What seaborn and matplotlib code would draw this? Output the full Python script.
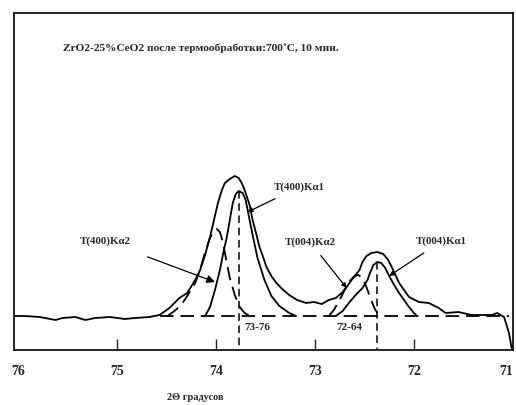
import numpy as np
import pandas as pd
import seaborn as sns
import matplotlib.pyplot as plt

sns.set_style("white")
plt.rcParams['font.family'] = ['Liberation Serif', 'DejaVu Serif']
plt.rcParams['font.weight'] = 'bold'

# measured profile (2theta, intensity)
meas_x = [76.04, 75.93, 75.78, 75.62, 75.55, 75.42, 75.32, 75.22, 75.07, 74.92, 74.82, 74.67,
          74.57, 74.47, 74.37, 74.29, 74.21, 74.16, 74.11, 74.06, 74.02, 73.98, 73.94, 73.91,
          73.86, 73.81, 73.77, 73.74, 73.71, 73.66, 73.63, 73.59, 73.56, 73.52, 73.49, 73.44,
          73.39, 73.32, 73.26, 73.18, 73.09, 73.01, 72.93, 72.86, 72.79, 72.73, 72.68, 72.63,
          72.59, 72.55, 72.52, 72.48, 72.43, 72.37, 72.31, 72.26, 72.21, 72.15, 72.05, 71.95,
          71.85, 71.75, 71.68, 71.55, 71.42, 71.21, 71.16, 71.09, 71.04, 71.01]
meas_y = [0, 0, -1, -4, -2, -1, -4, -2, -1, -3, -2, -1,
          1, 8, 18, 23, 36, 46, 61, 79, 96, 113, 126, 133,
          137, 140, 138, 133, 126, 111, 96, 81, 69, 58, 49, 40,
          33, 26, 21, 16, 13, 14, 12, 16, 18, 23, 29, 36,
          41, 46, 54, 60, 63, 64, 62, 56, 46, 33, 19, 14,
          13, 8, 3, 4, 1, 1, 3, -1, -17, -34]

# T(400) Ka1
k400a1_x = [74.11, 74.06, 74.01, 73.96, 73.92, 73.89, 73.86, 73.83, 73.80, 73.77,
            73.73, 73.70, 73.68, 73.64, 73.58, 73.51, 73.44, 73.36, 73.26, 73.19]
k400a1_y = [0, 9, 26, 46, 66, 79, 96, 113, 122, 125,
            123, 116, 106, 86, 58, 36, 20, 10, 3, 0]

# T(400) Ka2
k400a2_x = [74.49, 74.42, 74.35, 74.29, 74.21, 74.16, 74.11, 74.06, 74.02, 73.99,
            73.96, 73.93, 73.90, 73.86, 73.81, 73.76, 73.71, 73.66]
k400a2_y = [0, 5, 11, 20, 33, 46, 64, 78, 85, 87,
            84, 74, 58, 38, 21, 9, 3, 0]

# T(004) Ka1
k004a1_x = [72.79, 72.72, 72.65, 72.58, 72.52, 72.47, 72.44, 72.41, 72.37, 72.33,
            72.29, 72.25, 72.20, 72.15, 72.10, 72.05, 72.00, 71.97]
k004a1_y = [0, 5, 14, 22, 28, 36, 44, 51, 54, 53,
            48, 40, 31, 23, 16, 9, 3, 0]

# T(004) Ka2
k004a2_x = [72.86, 72.81, 72.75, 72.70, 72.65, 72.60, 72.56, 72.52, 72.48, 72.44, 72.40, 72.35]
k004a2_y = [0, 6, 16, 26, 35, 40, 41, 38, 29, 18, 8, 0]

base_x = [74.57, 71.04]
base_y = [0, 0]

peak_pos = [73.77, 72.37]
peak_top = [125, 54]

ticks = [76, 75, 74, 73, 72, 71]

fig = plt.figure(figsize=(5.16, 4.05), dpi=100)
ax = fig.add_axes([0.0271, 0.1358, 0.967, 0.832])

dash = (0, (7.5, 3.8))
lw = 1.3

sns.lineplot(x=meas_x, y=meas_y, sort=False, estimator=None, color='black', lw=lw, ax=ax)
sns.lineplot(x=k400a1_x, y=k400a1_y, sort=False, estimator=None, color='black', lw=lw, ax=ax)
sns.lineplot(x=k004a1_x, y=k004a1_y, sort=False, estimator=None, color='black', lw=lw, ax=ax)
sns.lineplot(x=k400a2_x, y=k400a2_y, sort=False, estimator=None, color='black', lw=lw, ls=dash, ax=ax)
sns.lineplot(x=k004a2_x, y=k004a2_y, sort=False, estimator=None, color='black', lw=lw, ls=dash, ax=ax)
sns.lineplot(x=base_x, y=base_y, sort=False, estimator=None, color='black', lw=lw, ls=dash, ax=ax)

for p, t in zip(peak_pos, peak_top):
    ax.plot([p, p], [t, -34], color='black', lw=1.1, ls=(0, (5, 3)))

ax.set_xlim(76.04, 71.01)
ax.set_ylim(-34, 303)
ax.set_xticks(ticks)
ax.set_xticklabels([str(t) for t in ticks], fontsize=10, fontweight='bold')
ax.set_yticks([])
ax.tick_params(axis='x', direction='in', length=8, width=1.0, pad=11, bottom=True)
xt = ax.xaxis.get_major_ticks()
xt[0].tick1line.set_visible(False)
xt[-1].tick1line.set_visible(False)
ax.get_xticklabels()[-1].set_horizontalalignment('right')
for s in ax.spines.values():
    s.set_visible(True)
    s.set_color('black')
    s.set_linewidth(1.2)

ax.text(75.54, 268, "ZrO2-25%CeO2 после термообработки:700˚C, 10 мин.",
        fontsize=8.2, fontweight='bold', va='center', ha='left')

ax.text(73.58, -11, "73-76", fontsize=8, fontweight='bold', ha='center', va='center')
ax.text(72.65, -11, "72-64", fontsize=8, fontweight='bold', ha='center', va='center')

lbl = dict(fontsize=7.8, fontweight='bold', ha='center', va='center')
ax.annotate("T(400)Kα2", xy=(74.01, 34), xytext=(75.12, 75), **lbl,
            arrowprops=dict(arrowstyle='-|>', color='black', lw=0.9, mutation_scale=12,
                            shrinkA=16, shrinkB=0))
ax.annotate("T(400)Kα1", xy=(73.68, 104), xytext=(73.16, 129), **lbl,
            arrowprops=dict(arrowstyle='-|>', color='black', lw=0.9, mutation_scale=7,
                            shrinkA=6, shrinkB=0))
ax.annotate("T(004)Kα2", xy=(72.68, 28), xytext=(73.05, 74), **lbl,
            arrowprops=dict(arrowstyle='-|>', color='black', lw=0.9, mutation_scale=7,
                            shrinkA=5, shrinkB=0))
ax.annotate("T(004)Kα1", xy=(72.25, 40), xytext=(71.72, 75), **lbl,
            arrowprops=dict(arrowstyle='-|>', color='black', lw=0.9, mutation_scale=7,
                            shrinkA=5, shrinkB=0))

fig.text(195 / 516, 1 - 397 / 405, "2Θ градусов", fontsize=7.5, fontweight='bold',
         ha='center', va='center')

fig.savefig("out.png", dpi=100)
